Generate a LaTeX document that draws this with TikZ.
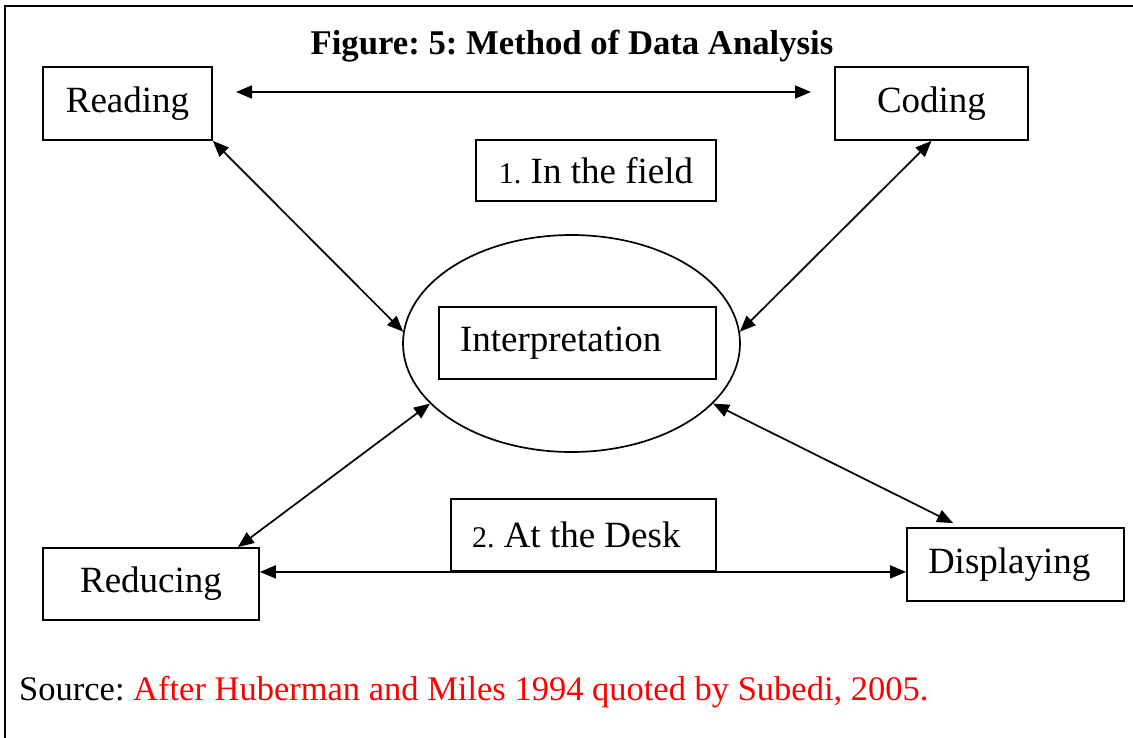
\documentclass[tikz,border=0pt]{standalone}
\usepackage{fontspec}
\setmainfont{Liberation Serif}
\usetikzlibrary{shapes.geometric,arrows.meta,calc}
\definecolor{srcred}{RGB}{255,0,0}
\frenchspacing
\begin{document}
\begin{tikzpicture}[x=1pt,y=-1pt,
  box/.style={draw, line width=1.8pt, inner sep=0pt, font=\fontsize{37}{40}\selectfont},
  link/.style={line width=1.7pt, {Triangle[length=16pt,width=13pt]}-{Triangle[length=16pt,width=13pt]}}]
\useasboundingbox (0,0) rectangle (1133,737);
\draw[line width=2.2pt] (5,760) -- (5,6) -- (1150,6);

\node (title) [font=\bfseries\fontsize{34.7}{38}\selectfont, anchor=base] at (572,54) {Figure: 5: Method of Data Analysis};

\node[box, minimum width=169pt, minimum height=73pt] (reading) at (127.5,103.5) {Reading};
\node[box, minimum width=193pt, minimum height=73pt] (coding) at (931.5,103.5) {Coding};
\node[box, minimum width=240pt, minimum height=61pt] (field) at (596,170.5) {{\fontsize{30}{32}\selectfont 1.} In the field};

\node[draw, ellipse, line width=1.7pt, minimum width=337pt, minimum height=217pt, inner sep=0pt] (ell) at (571.5,343.5) {};
\node[box, minimum width=277pt, minimum height=72pt, inner xsep=21pt, text width=235pt, align=flush left] (interp) at (577.5,343) {Interpretation};

\node[box, minimum width=216pt, minimum height=72pt] (reducing) at (151,584) {Reducing};
\node[box, minimum width=217pt, minimum height=73pt, inner xsep=21pt, text width=175pt, align=flush left] (displaying) at (1015.5,564.5) {Displaying};
\node[box, minimum width=265pt, minimum height=72pt, inner xsep=21pt, text width=223pt, align=flush left] (desk) at (583.5,535) {{\fontsize{30}{32}\selectfont 2.} At the Desk};

\node[anchor=base west, inner sep=0pt, font=\fontsize{34.5}{38}\selectfont] (src) at (19,700) {Source: \textcolor{srcred}{After Huberman and Miles 1994 quoted by Subedi, 2005.}};

\coordinate (rcL) at (236,92);
\coordinate (rcR) at (811,92);
\draw[link] (rcL) -- (rcR);
\draw[link] (reading.south east) -- (ell.176);
\draw[link] (coding.south) -- (ell.4);
\draw[link] ($(reducing.north east)+(-22,0)$) -- (ell.203);
\draw[link] ($(displaying.north west)+(47,-4)$) -- (ell.-23);
\draw[link] (reducing.east |- desk.south) -- (displaying.west |- desk.south);
\end{tikzpicture}
\end{document}
